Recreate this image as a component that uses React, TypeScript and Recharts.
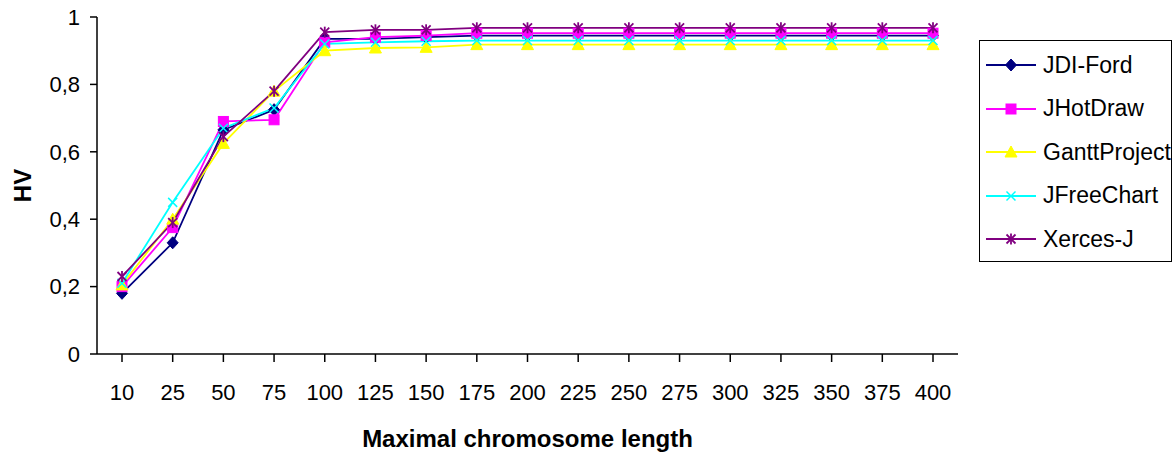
import React from "react";
import { LineChart, Line, XAxis, YAxis } from "recharts";

const categories = ["10", "25", "50", "75", "100", "125", "150", "175", "200", "225", "250", "275", "300", "325", "350", "375", "400"];
const jdiFord = [0.18, 0.33, 0.665, 0.725, 0.935, 0.935, 0.94, 0.945, 0.945, 0.945, 0.945, 0.945, 0.945, 0.945, 0.945, 0.945, 0.945];
const jHotDraw = [0.2, 0.375, 0.69, 0.695, 0.925, 0.94, 0.945, 0.952, 0.952, 0.952, 0.952, 0.952, 0.952, 0.952, 0.952, 0.952, 0.952];
const ganttProject = [0.205, 0.4, 0.625, 0.78, 0.9, 0.908, 0.91, 0.918, 0.918, 0.918, 0.918, 0.918, 0.918, 0.918, 0.918, 0.918, 0.918];
const jFreeChart = [0.21, 0.45, 0.67, 0.73, 0.92, 0.925, 0.928, 0.93, 0.93, 0.93, 0.93, 0.93, 0.93, 0.93, 0.93, 0.93, 0.93];
const xercesJ = [0.23, 0.39, 0.645, 0.78, 0.955, 0.962, 0.962, 0.968, 0.968, 0.968, 0.968, 0.968, 0.968, 0.968, 0.968, 0.968, 0.968];
const yTicks = [0, 0.2, 0.4, 0.6, 0.8, 1];

const data = categories.map((c, i) => ({
  x: c,
  jdi: jdiFord[i],
  jhd: jHotDraw[i],
  gantt: ganttProject[i],
  jfree: jFreeChart[i],
  xerces: xercesJ[i],
}));

type Shape = "diamond" | "square" | "triangle" | "x" | "star";

const series: { key: string; name: string; color: string; shape: Shape }[] = [
  { key: "jdi", name: "JDI-Ford", color: "#000080", shape: "diamond" },
  { key: "jhd", name: "JHotDraw", color: "#FF00FF", shape: "square" },
  { key: "gantt", name: "GanttProject", color: "#FFFF00", shape: "triangle" },
  { key: "jfree", name: "JFreeChart", color: "#00FFFF", shape: "x" },
  { key: "xerces", name: "Xerces-J", color: "#800080", shape: "star" },
];

const FONT = "'Liberation Sans', Arial, sans-serif";

function Marker({ cx, cy, shape, color }: { cx: number; cy: number; shape: Shape; color: string }) {
  if (cx == null || cy == null) return null;
  switch (shape) {
    case "diamond":
      return <polygon points={`${cx},${cy - 6} ${cx + 5.5},${cy} ${cx},${cy + 6} ${cx - 5.5},${cy}`} fill={color} stroke={color} />;
    case "square":
      return <rect x={cx - 5} y={cy - 5} width={10} height={10} fill={color} stroke={color} />;
    case "triangle":
      return <polygon points={`${cx},${cy - 6} ${cx + 6},${cy + 5} ${cx - 6},${cy + 5}`} fill={color} stroke={color} />;
    case "x":
      return (
        <g stroke={color} strokeWidth={1.5}>
          <line x1={cx - 4.5} y1={cy - 4.5} x2={cx + 4.5} y2={cy + 4.5} />
          <line x1={cx - 4.5} y1={cy + 4.5} x2={cx + 4.5} y2={cy - 4.5} />
        </g>
      );
    case "star":
      return (
        <g stroke={color} strokeWidth={1.8}>
          <line x1={cx - 4.5} y1={cy - 4.5} x2={cx + 4.5} y2={cy + 4.5} />
          <line x1={cx - 4.5} y1={cy + 4.5} x2={cx + 4.5} y2={cy - 4.5} />
          <line x1={cx} y1={cy - 5.5} x2={cx} y2={cy + 5.5} />
        </g>
      );
  }
  return null;
}

const fmt = (v: number) => String(v).replace(".", ",");

function LegendBox() {
  return (
    <div
      style={{
        position: "absolute",
        left: 979,
        top: 40,
        width: 191,
        height: 220,
        border: "1.5px solid #000",
        background: "#fff",
        boxSizing: "content-box",
      }}
    >
      {series.map((s, i) => (
        <div
          key={s.key}
          style={{ position: "absolute", left: 0, top: 24 + i * 43.5 - 14, height: 28, display: "flex", alignItems: "center" }}
        >
          <svg width={63} height={28} style={{ display: "block" }}>
            <line x1={6} y1={14} x2={56} y2={14} stroke={s.color} strokeWidth={1.8} />
            <Marker cx={31} cy={14} shape={s.shape} color={s.color} />
          </svg>
          <span style={{ fontFamily: FONT, fontSize: 23, color: "#000", whiteSpace: "nowrap" }}>{s.name}</span>
        </div>
      ))}
    </div>
  );
}

export default function App() {
  return (
    <div style={{ position: "absolute", left: 0, top: 0, width: 1175, height: 455, background: "#fff", overflow: "hidden" }}>
      <LineChart width={1175} height={455} data={data} margin={{ top: 17, right: 217, bottom: 0, left: 0 }}>
        <XAxis
          dataKey="x"
          padding={{ left: 25, right: 25 }}
          height={101}
          interval={0}
          tickSize={8}
          tickMargin={22}
          axisLine={{ stroke: "#000", strokeWidth: 1.5 }}
          tickLine={{ stroke: "#000", strokeWidth: 1.5 }}
          tick={{ fill: "#000", fontSize: 22, fontFamily: FONT }}
          label={{
            content: (props: any) => {
              const vb = props.viewBox;
              return (
                <text
                  x={vb.x + vb.width / 2}
                  y={vb.y + 84}
                  textAnchor="middle"
                  dominantBaseline="central"
                  style={{ fontFamily: FONT, fontSize: 24, fontWeight: "bold", fill: "#000" }}
                >
                  Maximal chromosome length
                </text>
              );
            },
          }}
        />
        <XAxis
          xAxisId="top"
          dataKey="x"
          orientation="top"
          height={0}
          tick={false}
          tickLine={false}
          axisLine={{ stroke: "#a0a0a0", strokeWidth: 2 }}
        />
        <YAxis
          type="number"
          domain={[0, 1]}
          ticks={yTicks}
          width={97}
          tickSize={7}
          tickMargin={10}
          tickFormatter={fmt}
          axisLine={{ stroke: "#000", strokeWidth: 1.5 }}
          tickLine={{ stroke: "#000", strokeWidth: 1.5 }}
          tick={{ fill: "#000", fontSize: 22, fontFamily: FONT }}
          label={{
            content: (props: any) => {
              const vb = props.viewBox;
              const cx = vb.x + 22;
              const cy = vb.y + vb.height / 2;
              return (
                <text
                  x={cx}
                  y={cy}
                  transform={`rotate(-90, ${cx}, ${cy})`}
                  textAnchor="middle"
                  dominantBaseline="central"
                  style={{ fontFamily: FONT, fontSize: 24, fontWeight: "bold", fill: "#000" }}
                >
                  HV
                </text>
              );
            },
          }}
        />
        <YAxis
          yAxisId="right"
          orientation="right"
          type="number"
          domain={[0, 1]}
          width={0}
          tick={false}
          tickLine={false}
          axisLine={{ stroke: "#a0a0a0", strokeWidth: 2 }}
        />
        {series.map((s) => (
          <Line
            key={s.key}
            dataKey={s.key}
            name={s.name}
            stroke={s.color}
            strokeWidth={1.8}
            isAnimationActive={false}
            dot={(p: any) => <Marker key={`${s.key}-${p.index}`} cx={p.cx} cy={p.cy} shape={s.shape} color={s.color} />}
            activeDot={false}
          />
        ))}
      </LineChart>
      <LegendBox />
    </div>
  );
}
